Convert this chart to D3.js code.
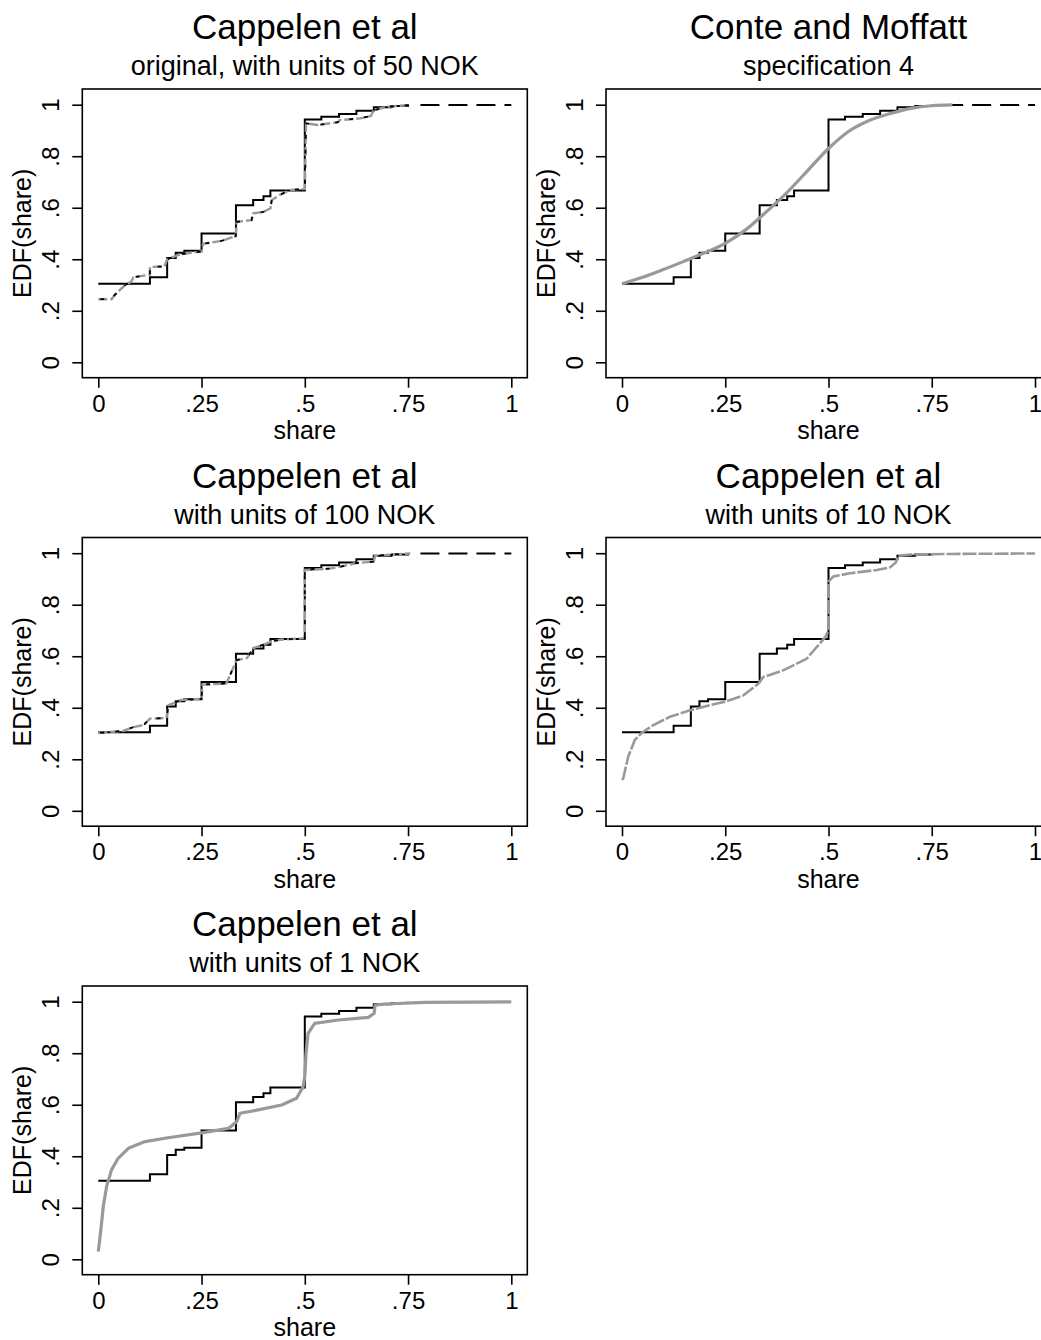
<!DOCTYPE html>
<html>
<head>
<meta charset="utf-8">
<script src="https://cdn.jsdelivr.net/npm/d3@7"></script>
<style>
  body { margin: 0; background: #fff; }
  text { font-family: "Liberation Sans", Arial, sans-serif; fill: #000; }
</style>
</head>
<body>
<div id="chart"></div>
<script>
// observed EDF of share (same in every panel), step points [share, EDF]
var edfSteps = [[0, 0.305], [0.125, 0.33], [0.1667, 0.405], [0.1875, 0.425], [0.2083, 0.433],
  [0.25, 0.50], [0.3333, 0.61], [0.375, 0.63], [0.4, 0.645], [0.4167, 0.667], [0.5, 0.943],
  [0.54, 0.953], [0.583, 0.964], [0.625, 0.977], [0.667, 0.99], [0.71, 0.995], [0.75, 1.0]];

// simulated EDFs (grey)
var sim50 = [[0, 0.245], [0.032, 0.245], [0.04, 0.262], [0.065, 0.30], [0.08, 0.313], [0.085, 0.33],
  [0.125, 0.34], [0.125, 0.37], [0.16, 0.372], [0.167, 0.40], [0.2, 0.42], [0.25, 0.43], [0.254, 0.46],
  [0.3, 0.472], [0.333, 0.49], [0.335, 0.545], [0.371, 0.552], [0.375, 0.578], [0.4, 0.584],
  [0.417, 0.598], [0.42, 0.63], [0.44, 0.65], [0.464, 0.669], [0.5, 0.673], [0.503, 0.928],
  [0.53, 0.921], [0.58, 0.932], [0.585, 0.94], [0.634, 0.947], [0.66, 0.956], [0.667, 0.979],
  [0.7, 0.992], [0.755, 0.999]];

var simCM = [[0, 0.305], [0.05, 0.33], [0.1, 0.36], [0.15, 0.392], [0.2, 0.425], [0.25, 0.462],
  [0.3, 0.515], [0.35, 0.585], [0.4, 0.66], [0.45, 0.745], [0.5, 0.83], [0.55, 0.898], [0.6, 0.94],
  [0.65, 0.966], [0.7, 0.986], [0.75, 0.996], [0.8, 0.999]];

var sim100 = [[0, 0.302], [0.06, 0.31], [0.085, 0.325], [0.11, 0.333], [0.125, 0.358], [0.165, 0.36],
  [0.17, 0.41], [0.2, 0.43], [0.25, 0.435], [0.252, 0.49], [0.31, 0.494], [0.335, 0.585], [0.36, 0.593],
  [0.376, 0.632], [0.4, 0.645], [0.42, 0.658], [0.44, 0.664], [0.5, 0.67], [0.5, 0.935], [0.56, 0.94],
  [0.585, 0.947], [0.625, 0.962], [0.667, 0.967], [0.67, 0.99], [0.755, 0.999]];

var sim10 = [[0, 0.12], [0.003, 0.126], [0.015, 0.21], [0.031, 0.275], [0.048, 0.303], [0.076, 0.333],
  [0.116, 0.365], [0.165, 0.39], [0.213, 0.41], [0.249, 0.423], [0.294, 0.448], [0.33, 0.493],
  [0.342, 0.519], [0.39, 0.545], [0.447, 0.59], [0.471, 0.635], [0.492, 0.674], [0.5, 0.70], [0.5, 0.89],
  [0.512, 0.91], [0.552, 0.922], [0.617, 0.935], [0.649, 0.945], [0.663, 0.964], [0.669, 0.99],
  [0.697, 0.995], [0.794, 0.997], [1, 0.999]];

var sim1 = [[0, 0.03], [0.003, 0.07], [0.0065, 0.12], [0.012, 0.204], [0.02, 0.282], [0.032, 0.347],
  [0.048, 0.392], [0.073, 0.431], [0.113, 0.457], [0.169, 0.472], [0.25, 0.491], [0.315, 0.508],
  [0.335, 0.534], [0.343, 0.567], [0.387, 0.58], [0.444, 0.599], [0.48, 0.625], [0.496, 0.67],
  [0.5, 0.709], [0.503, 0.8], [0.508, 0.877], [0.524, 0.916], [0.581, 0.929], [0.654, 0.939],
  [0.668, 0.955], [0.67, 0.987], [0.694, 0.991], [0.791, 0.997], [1, 0.999]];

// dashed tail at EDF = 1
var tail = [[0.78, 0.999], [1, 0.999]];

var xTicks = [0, 0.25, 0.5, 0.75, 1];
var xTickLabels = ["0", ".25", ".5", ".75", "1"];
var yTicks = [0, 0.2, 0.4, 0.6, 0.8, 1];
var yTickLabels = ["0", ".2", ".4", ".6", ".8", "1"];

var titles = ["Cappelen et al", "Conte and Moffatt", "Cappelen et al", "Cappelen et al", "Cappelen et al"];
var subtitles = ["original, with units of 50 NOK", "specification 4", "with units of 100 NOK",
  "with units of 10 NOK", "with units of 1 NOK"];

var panels = [
  { sim: sim50, style: "mixed", tail: true },
  { sim: simCM, style: "solid", tail: true },
  { sim: sim100, style: "mixed", tail: true },
  { sim: sim10, style: "dash", tail: false },
  { sim: sim1, style: "solid", tail: false }
];

var svgWidth = 1041;
var svgHeight = 1340;
var colStep = 523.7;
var rowStep = 448.5;

// frame and plot region inside one panel
var frame = { left: 82.3, top: 89, width: 445, height: 288.7 };

var svg = d3.select("#chart")
  .append("svg")
  .attr("width", svgWidth)
  .attr("height", svgHeight);

var x = d3.scaleLinear().domain([0, 1]).range([98.3, 511.3]);
var y = d3.scaleLinear().domain([0, 1]).range([362.3, 104.7]);

var stepLine = d3.line()
  .x(d => x(d[0]))
  .y(d => y(d[1]))
  .curve(d3.curveStepAfter);

var simLine = d3.line()
  .x(d => x(d[0]))
  .y(d => y(d[1]));

var smoothLine = d3.line()
  .x(d => x(d[0]))
  .y(d => y(d[1]))
  .curve(d3.curveMonotoneX);

var grey = "#999999";

panels.forEach(function (p, i) {
  var col = i % 2;
  var row = Math.floor(i / 2);
  var g = svg.append("g")
    .attr("transform", `translate(${col * colStep}, ${row * rowStep})`);

  var cx = frame.left + frame.width / 2;

  g.append("text")
    .attr("x", cx)
    .attr("y", 39)
    .attr("text-anchor", "middle")
    .attr("font-size", "35px")
    .text(titles[i]);

  g.append("text")
    .attr("x", cx)
    .attr("y", 75)
    .attr("text-anchor", "middle")
    .attr("font-size", "27px")
    .text(subtitles[i]);

  g.append("rect")
    .attr("x", frame.left)
    .attr("y", frame.top)
    .attr("width", frame.width)
    .attr("height", frame.height)
    .attr("fill", "none")
    .attr("stroke", "#000")
    .attr("stroke-width", 1.6);

  // axes
  var bottomAxis = d3.axisBottom(x)
    .tickValues(xTicks)
    .tickFormat((d, k) => xTickLabels[k])
    .tickSize(10)
    .tickPadding(7);
  var leftAxis = d3.axisLeft(y)
    .tickValues(yTicks)
    .tickFormat((d, k) => yTickLabels[k])
    .tickSize(10);

  var xg = g.append("g")
    .attr("transform", `translate(0, ${frame.top + frame.height})`)
    .call(bottomAxis);
  xg.select(".domain").remove();
  xg.selectAll("line").attr("stroke-width", 1.6);
  xg.selectAll("text")
    .attr("font-family", "Liberation Sans, Arial, sans-serif")
    .attr("font-size", "24px")
    .attr("fill", "#000");

  var yg = g.append("g")
    .attr("transform", `translate(${frame.left}, 0)`)
    .call(leftAxis);
  yg.select(".domain").remove();
  yg.selectAll("line").attr("stroke-width", 1.6);
  yg.selectAll("text")
    .attr("font-family", "Liberation Sans, Arial, sans-serif")
    .attr("font-size", "24px")
    .attr("fill", "#000")
    .attr("x", 0)
    .attr("dy", null)
    .attr("text-anchor", "middle")
    .attr("transform", "translate(-23, 0) rotate(-90)");

  g.append("text")
    .attr("x", cx)
    .attr("y", 439)
    .attr("text-anchor", "middle")
    .attr("font-size", "25px")
    .text("share");

  g.append("text")
    .attr("transform", `translate(31, ${frame.top + frame.height / 2}) rotate(-90)`)
    .attr("text-anchor", "middle")
    .attr("font-size", "25px")
    .text("EDF(share)");

  // observed EDF
  g.append("path")
    .datum(edfSteps)
    .attr("d", stepLine)
    .attr("fill", "none")
    .attr("stroke", "#000")
    .attr("stroke-width", 2);

  if (p.tail) {
    g.append("path")
      .datum(tail)
      .attr("d", simLine)
      .attr("fill", "none")
      .attr("stroke", "#000")
      .attr("stroke-width", 2)
      .attr("stroke-dasharray", "19 9");
  }

  // simulated EDF
  if (p.style === "mixed") {
    g.append("path")
      .datum(p.sim)
      .attr("d", simLine)
      .attr("fill", "none")
      .attr("stroke", grey)
      .attr("stroke-width", 2.4)
      .attr("stroke-dasharray", "9 3");
    g.append("path")
      .datum(p.sim)
      .attr("d", simLine)
      .attr("fill", "none")
      .attr("stroke", "#000")
      .attr("stroke-width", 1.8)
      .attr("stroke-dasharray", "4 11")
      .attr("stroke-dashoffset", -2);
  } else if (p.style === "dash") {
    g.append("path")
      .datum(p.sim)
      .attr("d", simLine)
      .attr("fill", "none")
      .attr("stroke", grey)
      .attr("stroke-width", 2.6)
      .attr("stroke-dasharray", "14 2");
  } else {
    g.append("path")
      .datum(p.sim)
      .attr("d", i === 1 ? smoothLine : simLine)
      .attr("fill", "none")
      .attr("stroke", grey)
      .attr("stroke-width", 3.2)
      .attr("stroke-linejoin", "round");
  }
});
</script>
</body>
</html>
